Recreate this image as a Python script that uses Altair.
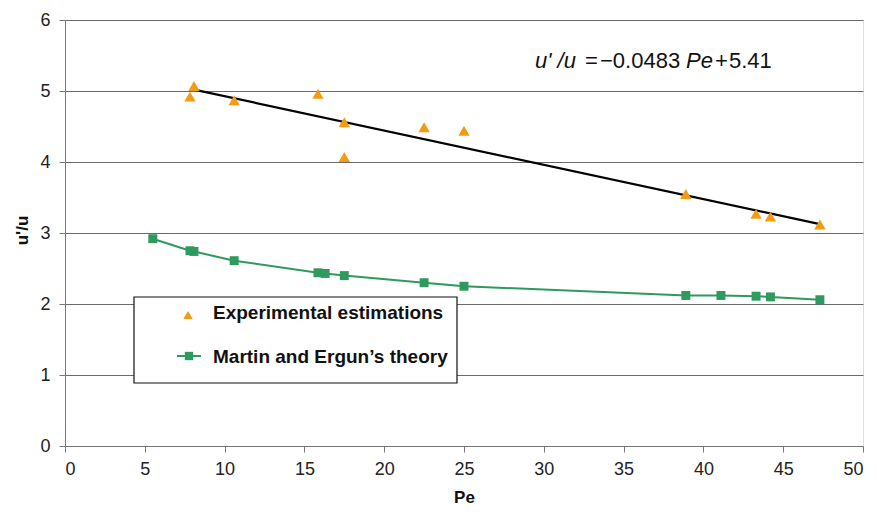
import altair as alt
import pandas as pd

# Experimental estimations
exp_pe = [7.83, 8.08, 10.6, 15.85, 17.5, 17.5, 22.5, 25.0, 38.9, 43.3, 44.2, 47.3]
exp_u = [4.92, 5.07, 4.87, 4.96, 4.56, 4.07, 4.49, 4.44, 3.55, 3.27, 3.23, 3.12]

# Martin and Ergun's theory
th_pe = [5.5, 7.83, 8.08, 10.6, 15.85, 16.3, 17.5, 22.5, 25.0, 38.9, 41.1, 43.3, 44.2, 47.3]
th_u = [2.92, 2.75, 2.74, 2.61, 2.44, 2.43, 2.40, 2.30, 2.25, 2.12, 2.12, 2.11, 2.10, 2.06]

# Linear trend: u'/u = -0.0483 Pe + 5.41
slope = -0.0483
intercept = 5.41
trend_pe = [8.08, 47.3]

x_ticks = [0, 5, 10, 15, 20, 25, 30, 35, 40, 45, 50]
y_ticks = [0, 1, 2, 3, 4, 5, 6]

ORANGE = "#F39C12"
GREEN = "#2E9A5E"
FONT = "Liberation Sans"

exp_df = pd.DataFrame({"Pe": exp_pe, "u": exp_u})
th_df = pd.DataFrame({"Pe": th_pe, "u": th_u})
trend_df = pd.DataFrame({"Pe": trend_pe, "u": [slope * p + intercept for p in trend_pe]})

xscale = alt.Scale(domain=[0, 50], nice=False, zero=False)
yscale = alt.Scale(domain=[0, 6], nice=False)

xax = alt.Axis(values=x_ticks, format="d", title="Pe", grid=False, labelPadding=8, titlePadding=11)
yax = alt.Axis(values=y_ticks, format="d", title="u'/u", grid=True, labelPadding=9,
               titleX=-34, titleY=210, titleAngle=-90)

X = alt.X("Pe:Q", scale=xscale, axis=xax)
Y = alt.Y("u:Q", scale=yscale, axis=yax)

theory_line = alt.Chart(th_df).mark_line(color=GREEN, strokeWidth=2).encode(x=X, y=Y)
theory_pts = alt.Chart(th_df).mark_point(shape="square", filled=True, color=GREEN, size=80, opacity=1).encode(x=X, y=Y)
trend = alt.Chart(trend_df).mark_line(color="#000000", strokeWidth=2.2).encode(x=X, y=Y)
exp_pts = alt.Chart(exp_df).mark_point(shape="triangle-up", filled=True, color=ORANGE, size=130, opacity=1).encode(x=X, y=Y)

# Equation annotation
one = pd.DataFrame({"a": [0]})
def txt(s, xpix, style="normal"):
    return alt.Chart(one).mark_text(text=s, align="left", baseline="alphabetic", font=FONT,
                                    fontSize=22, fontStyle=style, color="#111").encode(
        x=alt.value(xpix), y=alt.value(48))

eq = (txt("u' /u", 470, "italic") + txt("=", 520, "normal") + txt("\u22120.0483", 535, "normal")
      + txt("Pe", 621, "italic") + txt("+", 650, "normal") + txt("5.41", 664, "normal"))

# Legend box
box = alt.Chart(one).mark_rect(fill="white", stroke="#111", strokeWidth=1.2).encode(
    x=alt.value(69), x2=alt.value(392), y=alt.value(277), y2=alt.value(363))
leg_tri = alt.Chart(one).mark_point(shape="triangle-up", filled=True, color=ORANGE, size=90, opacity=1).encode(
    x=alt.value(123), y=alt.value(295))
leg_line = alt.Chart(one).mark_rule(color=GREEN, strokeWidth=2).encode(
    x=alt.value(112), x2=alt.value(136), y=alt.value(336))
leg_sq = alt.Chart(one).mark_point(shape="square", filled=True, color=GREEN, size=70, opacity=1).encode(
    x=alt.value(124), y=alt.value(336))
def legtxt(s, ypix):
    return alt.Chart(one).mark_text(text=s, align="left", baseline="middle", font=FONT,
                                    fontSize=19, fontWeight="bold", color="#111").encode(
        x=alt.value(148), y=alt.value(ypix))
legend = box + leg_tri + leg_line + leg_sq + legtxt("Experimental estimations", 293) + legtxt("Martin and Ergun\u2019s theory", 337)

chart = alt.layer(theory_line, theory_pts, trend, exp_pts, eq, legend).properties(
    width=798, height=426,
    autosize=alt.AutoSizeParams(type="none"),
    padding={"left": 57, "top": 12, "right": 6, "bottom": 65},
).configure_view(stroke="#8a8a8a", strokeWidth=1).configure(background="white").configure_axis(
    labelFont=FONT, labelFontSize=18, labelColor="#222", titleFont=FONT, titleFontSize=17,
    titleFontWeight="bold", titleColor="#111", tickColor="#777", domainColor="#777",
    tickSize=6, gridColor="#6a6a6a", gridWidth=1,
)

chart.save("out.html", embed_options={"renderer": "svg", "actions": False})
